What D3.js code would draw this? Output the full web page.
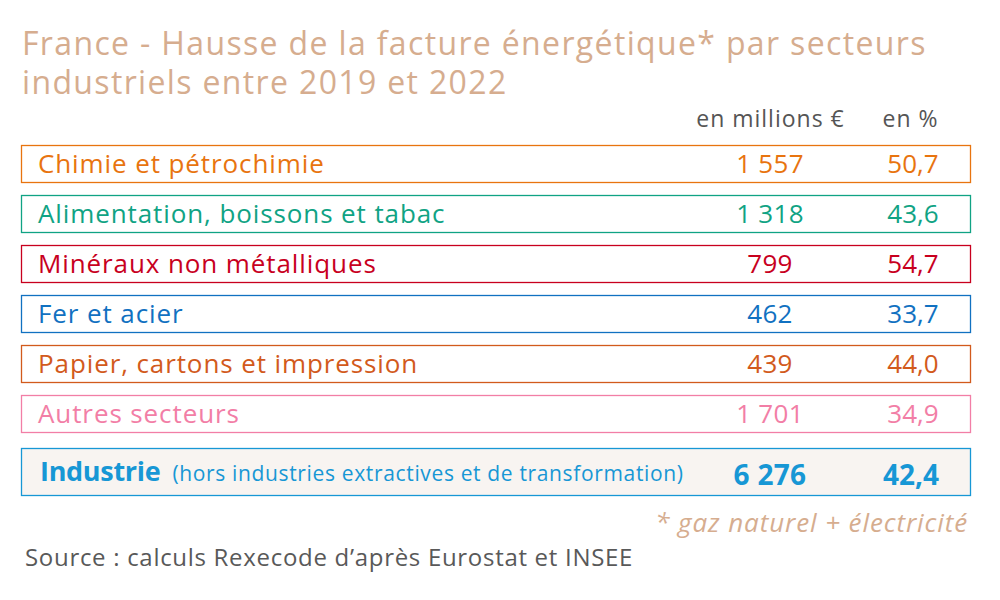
<!DOCTYPE html>
<html><head><meta charset="utf-8">
<script src="https://cdn.jsdelivr.net/npm/d3@7"></script>
<style>body{margin:0;background:#fff}svg{display:block}</style>
</head><body>
<svg id="c" width="1000" height="600"></svg>
<script>
const sectors = ["Chimie et pétrochimie","Alimentation, boissons et tabac","Minéraux non métalliques","Fer et acier","Papier, cartons et impression","Autres secteurs"];
const valuesMEUR = [1557,1318,799,462,439,1701];
const valuesPct = [50.7,43.6,54.7,33.7,44.0,34.9];
const sectorColors = ["#E8740F","#10A384","#C8001E","#1171C1","#D25A1C","#F27EA6"];
const totalLabel = "Industrie";
const totalNote = "(hors industries extractives et de transformation)";
const totalMEUR = 6276;
const totalPct = 42.4;
const totalColor = "#1797D5";
const titleLines = ["France - Hausse de la facture énergétique* par secteurs","industriels entre 2019 et 2022"];
const colHeaders = ["en millions €","en %"];

const loc = d3.formatLocale({decimal:",",thousands:"\u00a0",grouping:[3],currency:["","€"]});
const fInt = loc.format(",d"), fPct = loc.format(",.1f");

const svg = d3.select("#c");
const main = "'Open Sans', 'Noto Sans', sans-serif";
const tan = "#D6AD8F";

svg.selectAll("text.title").data(titleLines).join("text").attr("class","title")
  .attr("x",22).attr("y",(d,i)=>55+i*39).attr("font-family",main).attr("font-size",32)
  .attr("letter-spacing",1.35).attr("fill",tan).text(d=>d);

const colX = d3.scaleOrdinal().domain(["v","p"]).range([770,913]);
svg.selectAll("text.hdr").data(colHeaders).join("text").attr("class","hdr")
  .attr("x",(d,i)=>i===0?770.5:910.5).attr("y",127).attr("text-anchor","middle")
  .attr("font-family",main).attr("font-size",23).attr("letter-spacing",1).attr("fill","#555").text(d=>d);

const y = d3.scaleBand().domain(d3.range(sectors.length)).range([145,432]).paddingInner(0.26).paddingOuter(0);
const g = svg.selectAll("g.row").data(sectors).join("g").attr("class","row")
  .attr("transform",(d,i)=>`translate(0,${y(i)})`);
g.append("rect").attr("x",21.5).attr("y",0.5).attr("width",949).attr("height",y.bandwidth())
  .attr("fill","#fff").attr("stroke",(d,i)=>sectorColors[i]).attr("stroke-width",1.3);
const mid = y.bandwidth()/2;
g.append("text").attr("x",38).attr("y",mid).attr("dy","0.36em").attr("font-family",main).attr("font-size",26)
  .attr("letter-spacing",0.9).attr("fill",(d,i)=>sectorColors[i]).text(d=>d);
g.append("text").attr("x",colX("v")).attr("y",mid).attr("dy","0.36em").attr("text-anchor","middle").attr("font-family",main).attr("font-size",26)
  .attr("letter-spacing",0.3).attr("fill",(d,i)=>sectorColors[i]).text((d,i)=>fInt(valuesMEUR[i]));
g.append("text").attr("x",colX("p")).attr("y",mid).attr("dy","0.36em").attr("text-anchor","middle").attr("font-family",main).attr("font-size",26)
  .attr("fill",(d,i)=>sectorColors[i]).text((d,i)=>fPct(valuesPct[i]));

const tg = svg.append("g").attr("transform","translate(0,448)");
tg.append("rect").attr("x",21.5).attr("y",0.5).attr("width",949).attr("height",47)
  .attr("fill","#F8F4F1").attr("stroke",totalColor).attr("stroke-width",1.3);
const tt = tg.append("text").attr("x",40).attr("y",27).attr("dy","0.36em").attr("font-family",main).attr("fill",totalColor);
tt.append("tspan").attr("font-size",27).attr("font-weight","bold").attr("letter-spacing",-0.3).text(totalLabel);
tt.append("tspan").attr("font-size",21).attr("dx",12).attr("letter-spacing",0.65).text(totalNote);
tg.append("text").attr("x",colX("v")).attr("y",27).attr("dy","0.36em").attr("text-anchor","middle").attr("font-family",main)
  .attr("font-size",28).attr("font-weight","bold").attr("letter-spacing",0.3).attr("fill",totalColor).text(fInt(totalMEUR));
tg.append("text").attr("x",colX("p")-2).attr("y",27).attr("dy","0.36em").attr("text-anchor","middle").attr("font-family",main)
  .attr("font-size",28).attr("font-weight","bold").attr("fill",totalColor).text(fPct(totalPct));

svg.append("text").attr("x",968).attr("y",532).attr("text-anchor","end").attr("font-family",main)
  .attr("font-style","italic").attr("font-size",26).attr("letter-spacing",0.9).attr("fill",tan).text("* gaz naturel + électricité");
svg.append("text").attr("x",25).attr("y",566).attr("font-family","'Open Sans', 'Noto Sans', sans-serif")
  .attr("font-size",24).attr("letter-spacing",0.7).attr("fill","#595959").text("Source : calculs Rexecode d’après Eurostat et INSEE");
</script>
</body></html>
